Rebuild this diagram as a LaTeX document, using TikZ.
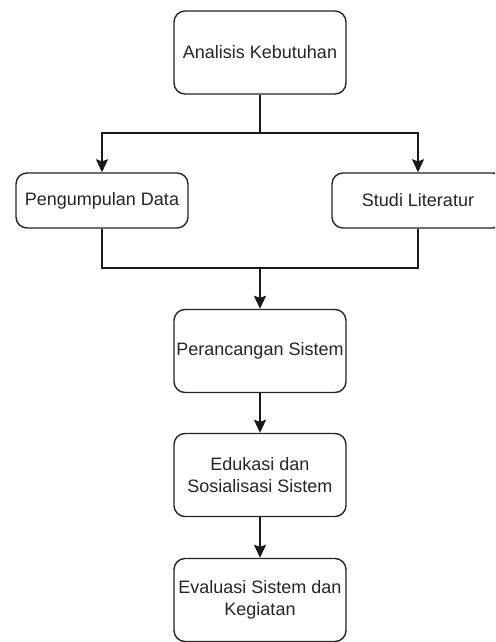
\documentclass[tikz,border=0pt]{standalone}
\usepackage{fontspec}
\setmainfont{Liberation Sans}
\usetikzlibrary{arrows.meta}
\tikzset{
  box/.style={draw=black!85, line width=1.4pt, rounded corners=11pt, fill=white,
    minimum width=172pt, align=center, inner sep=2pt,
    font=\fontsize{18}{22}\selectfont, text=black!85},
  tall/.style={box, minimum height=83pt},
  short/.style={box, minimum height=55pt},
  conn/.style={draw=black!90, line width=1.4pt},
  arr/.style={conn, -{Stealth[length=13pt,width=12pt,inset=2pt]}}
}
\begin{document}
\begin{tikzpicture}[x=1pt,y=-1pt]
\clip (0,0) rectangle (495,642);
\fill[white] (0,0) rectangle (495,642);
\node[tall]  (b1) at (260,52.5) {Analisis Kebutuhan};
\node[short] (b2) at (102,200.5) {Pengumpulan Data};
\node[short] (b3) at (418,200.5) {Studi Literatur};
\node[tall]  (b4) at (260,351) {Perancangan Sistem};
\node[tall]  (b5) at (260,475) {Edukasi dan\\Sosialisasi Sistem};
\node[tall]  (b6) at (260,600) {Evaluasi Sistem dan\\Kegiatan};
\coordinate (j1) at (260,133);
\coordinate (j2) at (260,268);
\draw[conn] (b1.south) -- (j1);
\draw[arr] (j1) -| (b2.north);
\draw[arr] (j1) -| (b3.north);
\draw[conn] (b2.south) |- (j2);
\draw[conn] (b3.south) |- (j2);
\draw[arr] (j2) -- (b4.north);
\draw[arr] (b4.south) -- (b5.north);
\draw[arr] (b5.south) -- (b6.north);
\end{tikzpicture}
\end{document}
